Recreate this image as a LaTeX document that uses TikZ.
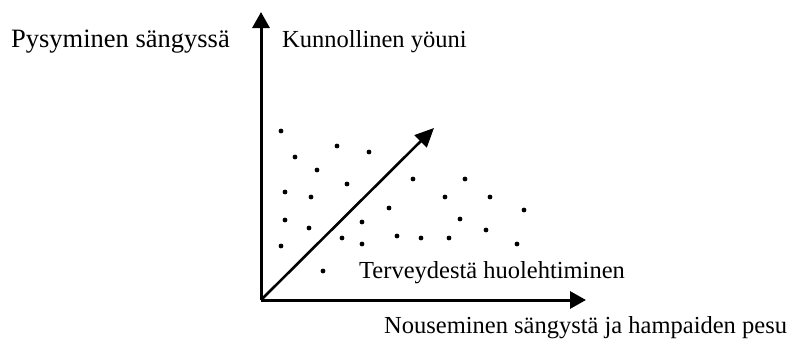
\documentclass[tikz,border=0pt]{standalone}
\usepackage{fontspec}
\setmainfont{Liberation Serif}
\usetikzlibrary{arrows.meta}

\tikzset{
  axis/.style={line width=3pt,-{Triangle[length=16pt,width=17pt]}},
  trend/.style={line width=2.6pt,-{Triangle[length=19pt,width=17pt]}},
  lbl/.style={anchor=base west,inner sep=0pt,font=\fontsize{24.5}{29}\selectfont},
  pt/.style={fill=black}
}

\begin{document}
\begin{tikzpicture}[x=1pt,y=-1pt]
\useasboundingbox (0,0) rectangle (793,340);
\coordinate (o) at (261,300);
\coordinate (ytop) at (261,12);
\coordinate (xend) at (586,300);
\coordinate (dtop) at (434,128);
% axes and trend arrow
\draw[axis] (o) -- (ytop);
\draw[axis] (o) -- (xend);
\draw[trend] (o) -- (dtop);
% scatter
\foreach \px/\py in {281/131,295/157,337/146,369/152,317/170,347/184,413/179,465/179,
  285/192,311/197,445/197,490/197,389/208,524/210,285/220,309/228,362/222,460/219,
  342/238,362/244,397/236,421/238,449/238,486/230,281/246,517/244,323/271}
  \fill[pt] (\px,\py) circle (2.4pt);
% labels
\node[lbl,font=\fontsize{26.5}{31}\selectfont] (ly) at (11,47) {Pysyminen sängyssä};
\node[lbl] (lgoal) at (282,47) {Kunnollinen yöuni};
\node[lbl] (ltrend) at (359,278) {Terveydestä huolehtiminen};
\node[lbl] (lx) at (384,333) {Nouseminen sängystä ja hampaiden pesu};
\end{tikzpicture}
\end{document}
